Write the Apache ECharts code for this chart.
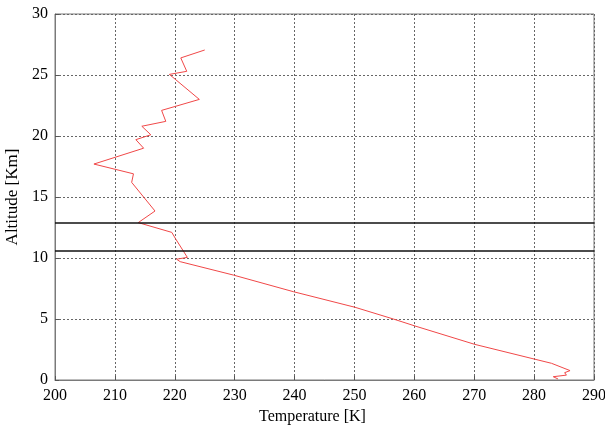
<!DOCTYPE html>
<html><head><meta charset="utf-8">
<script src="https://cdn.jsdelivr.net/npm/echarts@6/dist/echarts.min.js"></script>
<style>html,body{margin:0;padding:0;background:#fff}#c{width:605px;height:428px}</style>
</head><body><div id="c"></div>
<script>
// Temperature [K] profile, ordered top to bottom
const temperature = [225.0, 221.0, 222.0, 219.1, 224.1, 217.8, 218.5, 214.5, 216.0, 213.5, 214.8, 206.5, 213.1, 212.8, 216.7, 213.9, 219.5, 220.1, 222.1, 220.3, 220.9, 229.8, 239.8, 250.1, 256.5, 260.1, 270.1, 280.0, 282.9, 286.0, 285.1, 285.4, 283.2, 284.0];
const altitude    = [27.05, 26.4, 25.3, 25.05, 23.0, 22.1, 21.2, 20.8, 20.1, 19.7, 19.0, 17.7, 16.9, 16.2, 13.85, 12.9, 12.1, 11.6, 10.05, 9.9, 9.7, 8.6, 7.24, 5.96, 5.0, 4.43, 2.92, 1.72, 1.37, 0.77, 0.6, 0.4, 0.27, 0.08];
const boundaryLines = [12.9, 10.6];
const xTicks = [200, 290, 10];
const yTicks = [0, 30, 5];

const profile = temperature.map((t, i) => [t, altitude[i]]);
const font = 'Liberation Serif';
const chart = echarts.init(document.getElementById('c'));
chart.setOption({
  animation: false,
  grid: { left: 55, right: 11, top: 14, bottom: 48, show: true, borderColor: '#7a7a7a', borderWidth: 1,
          containLabel: false, outerBoundsMode: 'none' },
  xAxis: {
    type: 'value', min: xTicks[0], max: xTicks[1], interval: xTicks[2],
    name: 'Temperature [K]', nameLocation: 'middle', nameGap: 28,
    nameTextStyle: { fontFamily: font, fontSize: 16, color: '#000', padding: [0, 24, 0, 0] },
    axisLine: { show: true, lineStyle: { color: '#7a7a7a' } },
    axisTick: { show: true, inside: true, length: 4, lineStyle: { color: '#555' } },
    axisLabel: { fontFamily: font, fontSize: 16, color: '#000', margin: 8 },
    splitLine: { show: true, lineStyle: { color: '#666', type: [2, 2], width: 1 } }
  },
  yAxis: {
    type: 'value', min: yTicks[0], max: yTicks[1], interval: yTicks[2],
    name: 'Altitude [Km]', nameLocation: 'middle', nameGap: 34,
    nameTextStyle: { fontFamily: font, fontSize: 17, color: '#000' },
    axisLine: { show: true, lineStyle: { color: '#7a7a7a' } },
    axisTick: { show: true, inside: true, length: 4, lineStyle: { color: '#555' } },
    axisLabel: { fontFamily: font, fontSize: 16, color: '#000', margin: 7 },
    splitLine: { show: true, lineStyle: { color: '#666', type: [2, 2], width: 1 } }
  },
  series: [{
    type: 'line', data: profile, showSymbol: false, symbol: 'none',
    lineStyle: { color: '#f04848', width: 1 },
    markLine: {
      silent: true, symbol: 'none', label: { show: false },
      lineStyle: { color: '#111', width: 1.6, type: 'solid' },
      data: boundaryLines.map(v => ({ yAxis: v }))
    }
  }]
});
</script></body></html>
